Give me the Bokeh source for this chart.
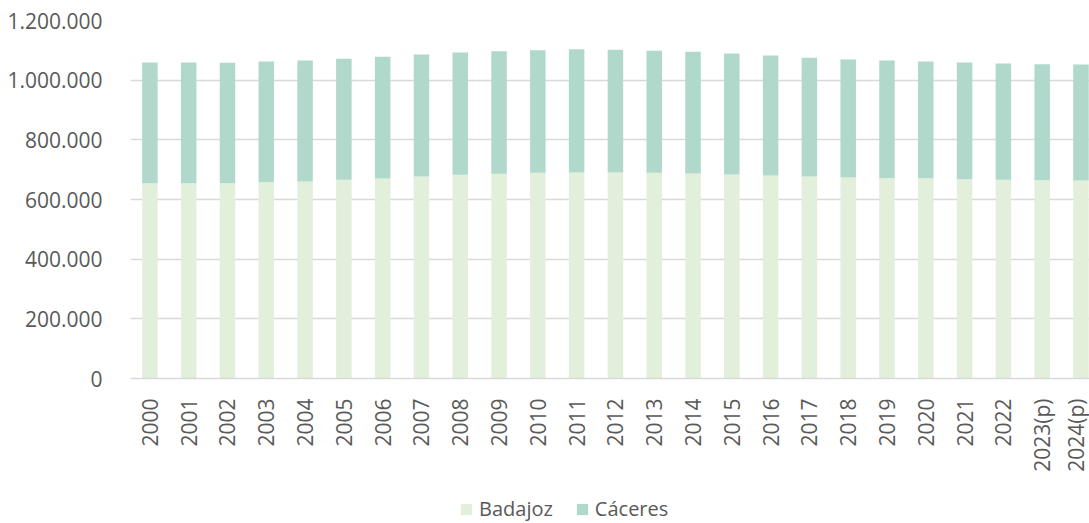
import math
from bokeh.plotting import figure
from bokeh.layouts import column
from bokeh.models import Range1d, FixedTicker, Legend, LegendItem, ColumnDataSource
from bokeh.embed import file_html
from bokeh.resources import INLINE

years = ["2000", "2001", "2002", "2003", "2004", "2005", "2006", "2007", "2008",
         "2009", "2010", "2011", "2012", "2013", "2014", "2015", "2016", "2017",
         "2018", "2019", "2020", "2021", "2022", "2023(p)", "2024(p)"]
badajoz = [654800, 654800, 654800, 658100, 660300, 665900, 670400, 677100, 682700,
           686000, 689400, 690500, 690500, 689400, 687200, 683800, 680500, 677100,
           673800, 671500, 671500, 668200, 665900, 664800, 663700]
caceres = [404400, 404400, 403300, 404500, 405700, 405600, 407800, 408900, 410100,
           411200, 411200, 413400, 411200, 408900, 407800, 405600, 402200, 397800,
           395500, 394500, 391100, 391000, 390000, 388800, 388800]
series = ["Badajoz", "Cáceres"]
colors = ["#e2efda", "#b0d9cb"]
y_ticks = [0, 200000, 400000, 600000, 800000, 1000000, 1200000]
y_tick_labels = ["0", "200.000", "400.000", "600.000", "800.000", "1.000.000", "1.200.000"]

xs = list(range(len(years)))
source = ColumnDataSource(dict(x=xs, Badajoz=badajoz, Cáceres=caceres))

p = figure(width=1089, height=490, output_backend="svg", toolbar_location=None,
           x_range=Range1d(-0.5, len(years) - 0.78), y_range=Range1d(0, 1200000),
           min_border_left=130, min_border_right=0, min_border_top=20,
           min_border_bottom=112)
p.outline_line_color = None
p.background_fill_color = "white"
p.border_fill_color = "white"

p.vbar_stack(series, x="x", width=0.4, color=colors, source=source, line_color=None)

# axes
p.xaxis.ticker = FixedTicker(ticks=xs)
p.xaxis.major_label_overrides = {i: y for i, y in zip(xs, years)}
p.xaxis.major_label_orientation = math.pi / 2
p.xaxis.major_tick_line_color = None
p.xaxis.minor_tick_line_color = None
p.xaxis.axis_line_color = "#d9d9d9"
p.xaxis.axis_line_width = 1.5
p.xaxis.major_label_standoff = 14
p.xaxis.major_label_text_font = "Open Sans"
p.xaxis.major_label_text_font_size = "21px"
p.xaxis.major_label_text_color = "#595959"

p.yaxis.ticker = FixedTicker(ticks=y_ticks)
p.yaxis.major_label_overrides = {t: l for t, l in zip(y_ticks, y_tick_labels)}
p.yaxis.major_tick_line_color = None
p.yaxis.minor_tick_line_color = None
p.yaxis.axis_line_color = None
p.yaxis.major_label_standoff = 22
p.yaxis.major_label_text_font = "Open Sans"
p.yaxis.major_label_text_font_size = "21px"
p.yaxis.major_label_text_color = "#595959"

p.xgrid.grid_line_color = None
p.ygrid.grid_line_color = "#d9d9d9"
p.ygrid.grid_line_width = 1.5

# legend strip below the chart (its frame is aligned with the chart's frame)
p2 = figure(width=1089, height=33, output_backend="svg", toolbar_location=None,
            x_range=Range1d(-0.5, len(years) - 0.78), y_range=Range1d(0, 1200000),
            min_border=0)
p2.axis.visible = False
p2.grid.visible = False
p2.outline_line_color = None
p2.background_fill_color = "white"
p2.border_fill_color = "white"
legend_renderers = p2.vbar_stack(series, x="x", width=0.4, color=colors, source=source,
                                 line_color=None)
for r in legend_renderers:
    r.visible = False

legend = Legend(items=[LegendItem(label=s, renderers=[r]) for s, r in zip(series, legend_renderers)],
                orientation="horizontal", location=(329, 1), padding=0, margin=0,
                spacing=22, label_standoff=6, glyph_width=14, glyph_height=14,
                label_text_font="Open Sans", label_text_font_size="20px",
                label_text_color="#595959", border_line_color=None,
                background_fill_alpha=0)
p2.add_layout(legend)

open("out.html", "w").write(file_html(column(p, p2, spacing=0), INLINE))
